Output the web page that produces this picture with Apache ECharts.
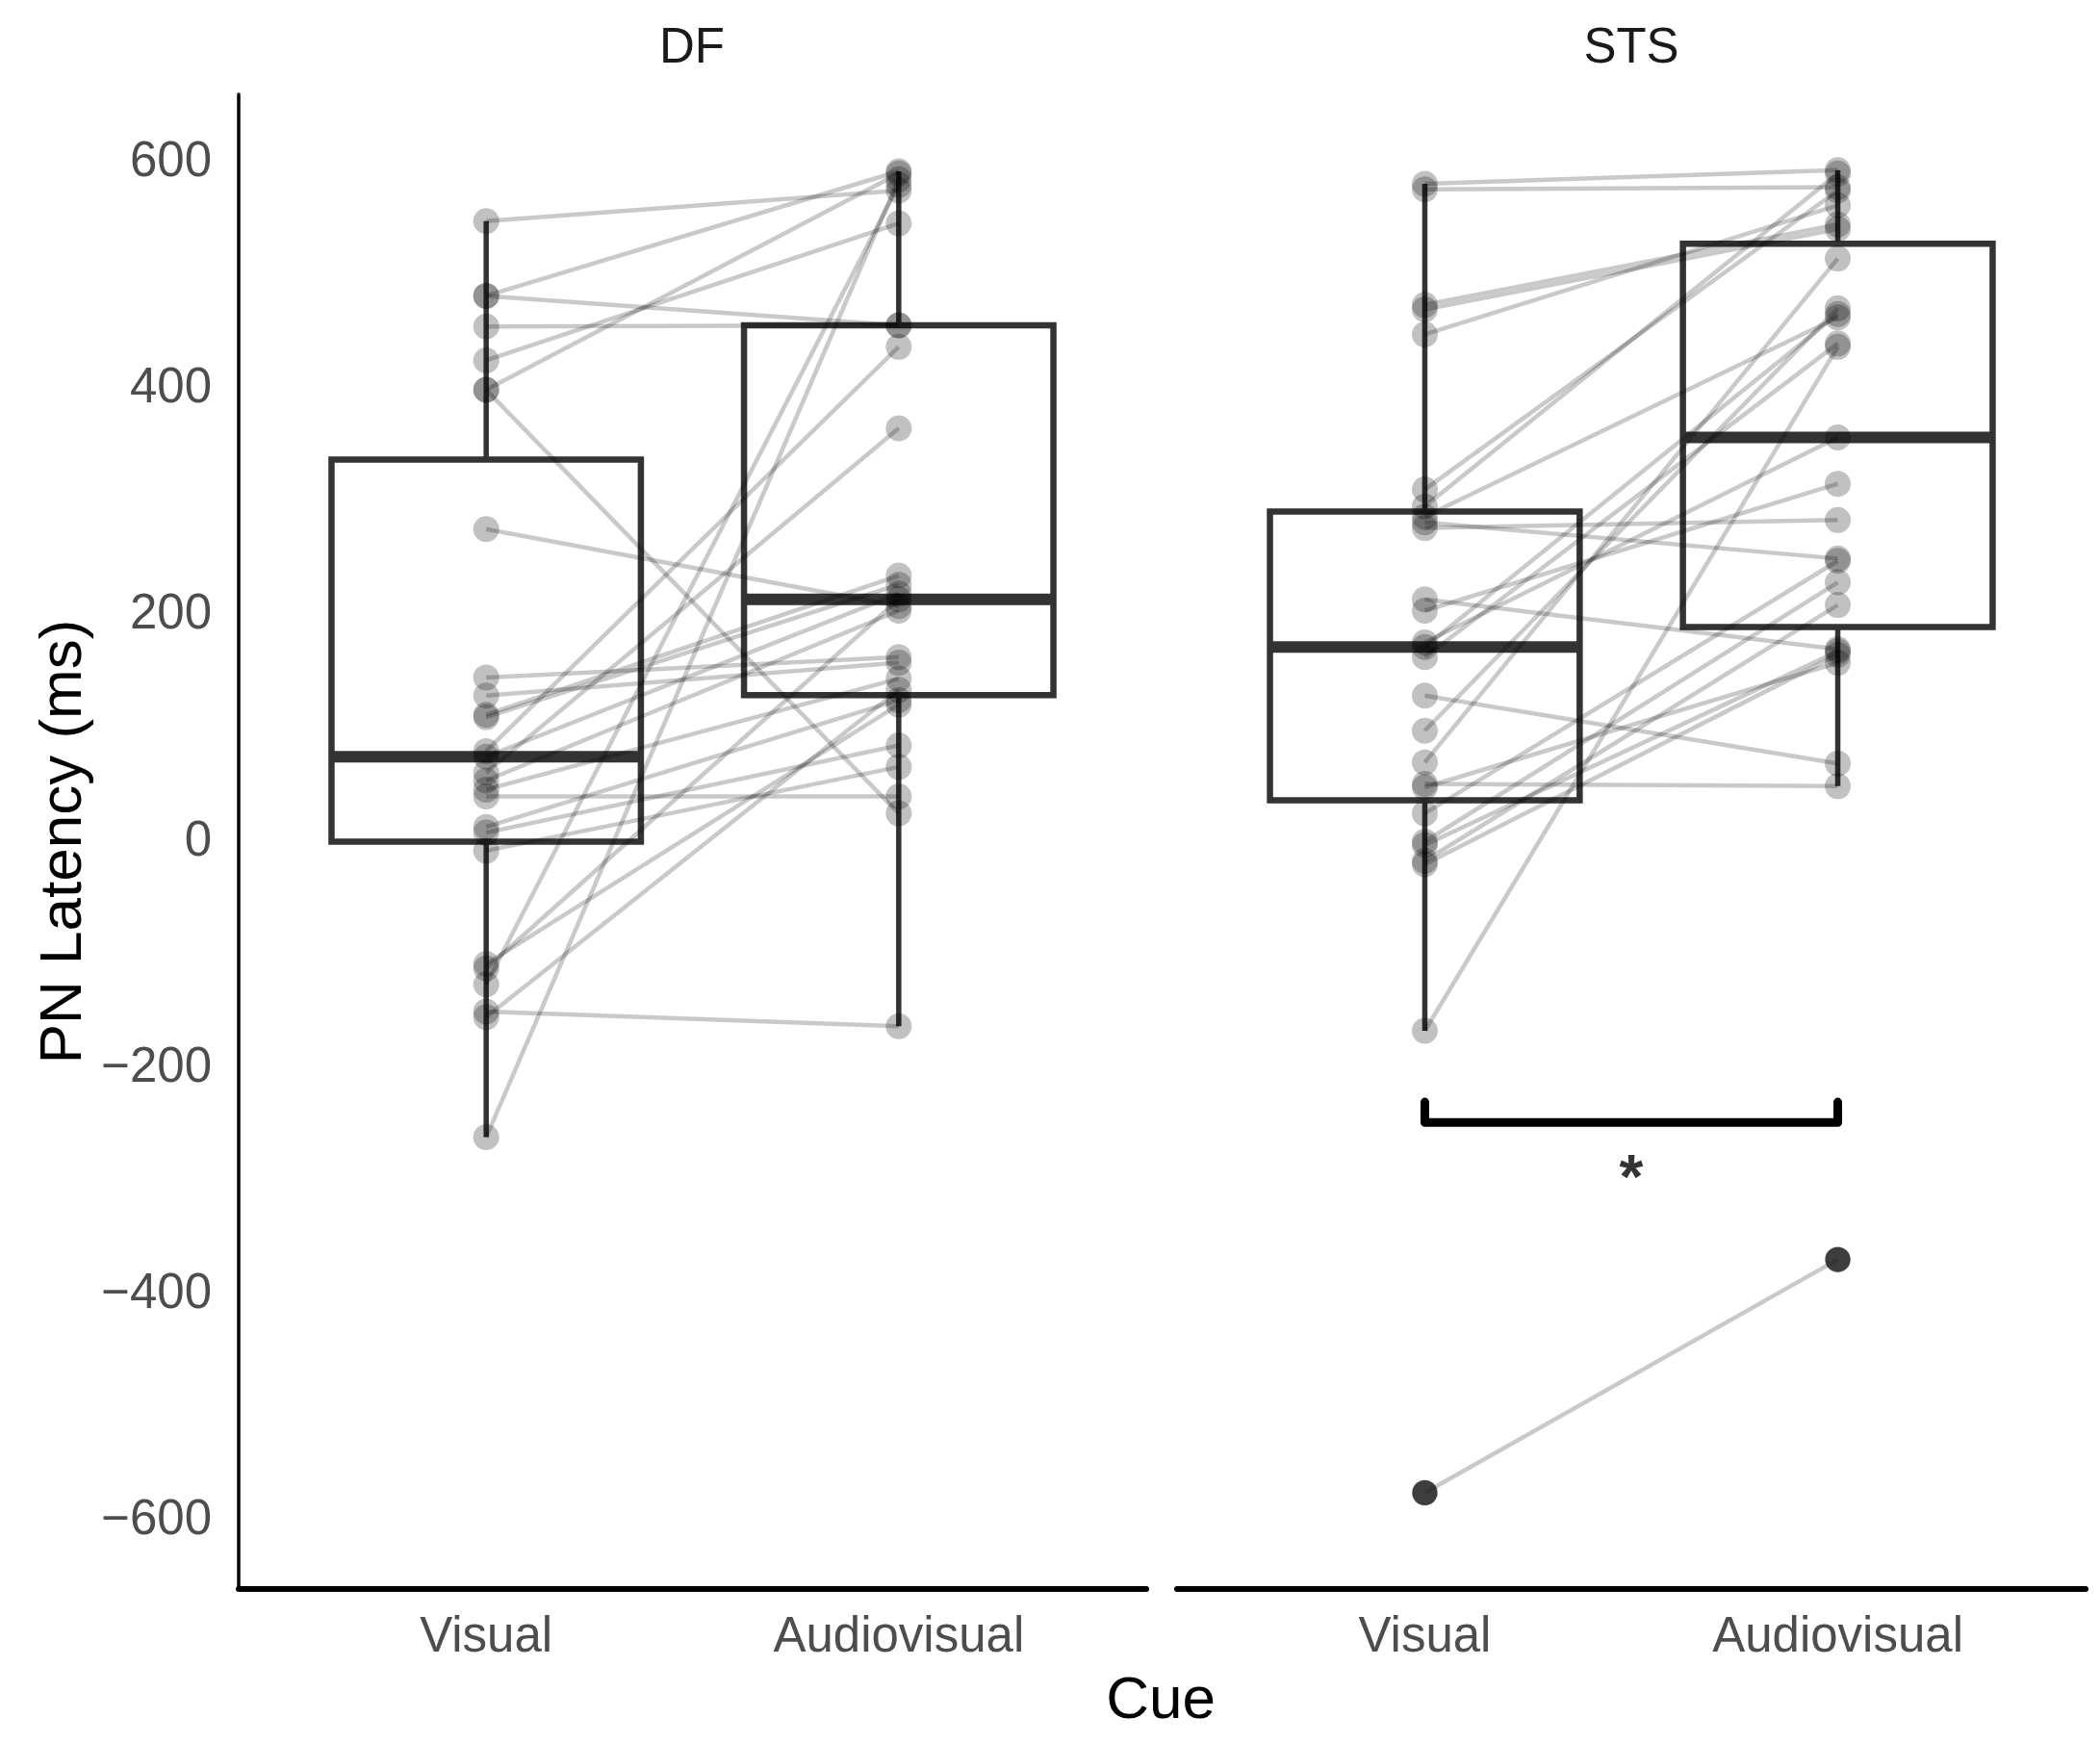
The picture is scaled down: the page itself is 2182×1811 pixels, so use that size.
<!DOCTYPE html>
<html>
<head>
<meta charset="utf-8">
<script src="https://cdn.jsdelivr.net/npm/echarts@6/dist/echarts.min.js"></script>
<style>html,body{margin:0;padding:0;background:#fff}#chart{width:2182px;height:1811px}</style>
</head>
<body>
<div id="chart"></div>
<script>
// ---------- data ----------
const regions = ['DF', 'STS'];
const cues = ['Visual', 'Audiovisual'];
const yTicks = [-600, -400, -200, 0, 200, 400, 600];
// paired values (same participant at same index)
const dfVisual      = [548, 482, 482, 455, 425, 399, 399, 276, 145, 129, 112, 110,  80,  75,  61,  54,  46, 40,  13,  8,  -8, -108, -112, -126, -150, -155, -261];
const dfAudiovisual = [575, 592, 456, 456, 546, 590,  25, 208, 163, 158, 235, 227, 437, 219, 365, 204, 144, 40, 125, 85,  66,  121,  214,  580, -163,  134,  585];
const stsVisual      = [581, 576, 474, 470, 448, 311, 296, 287, 282, 277, 214, 204, 176, 172, 163, 129,  98,  70, 51,  48,  25,   0,  -3, -17, -20, -167, -575];
const stsAudiovisual = [593, 578, 545, 541, 562, 575, 590, 463, 250, 284, 170, 316, 357, 466, 440,  69, 471, 515, 49, 158, 248, 229, 168, 209, 165,  437, -369];
// significance annotation (STS panel): bracket between the two cues
const sigBracketLevel = -248;
const sigBracketTip = -230;
const sigText = '*';
const sigTextLevel = -300;

// ---------- helpers ----------
function quantile(sorted, p) {
  const h = (sorted.length - 1) * p;
  const lo = Math.floor(h), hi = Math.ceil(h);
  return sorted[lo] + (h - lo) * (sorted[hi] - sorted[lo]);
}
function boxStats(arr) {
  const s = arr.slice().sort((a, b) => a - b);
  const q1 = quantile(s, 0.25), med = quantile(s, 0.5), q3 = quantile(s, 0.75);
  const iqr = q3 - q1;
  const inside = s.filter(v => v >= q1 - 1.5 * iqr && v <= q3 + 1.5 * iqr);
  const lo = Math.min(...inside), hi = Math.max(...inside);
  const outliers = s.filter(v => v < lo || v > hi);
  return { q1, med, q3, lo, hi, outliers };
}

const panels = [
  { visual: dfVisual, av: dfAudiovisual },
  { visual: stsVisual, av: stsAudiovisual }
];

const FONT = "'Liberation Sans', Arial, sans-serif";
const BOX_COLOR = '#333333';
const grids = [
  { left: 248, top: 98, width: 943, height: 1553, containLabel: false },
  { left: 1223, top: 98, width: 944, height: 1553, containLabel: false }
];

const xAxes = [], yAxes = [], series = [];
panels.forEach((p, i) => {
  xAxes.push({
    gridIndex: i, type: 'value', min: 0.4, max: 2.6,
    axisLine: { show: true, onZero: false, lineStyle: { color: '#000', width: 6 } },
    axisTick: { show: false }, splitLine: { show: false },
    axisLabel: {
      customValues: [1, 2],
      formatter: v => cues[Math.round(v) - 1] || '',
      fontSize: 51, color: '#4d4d4d', margin: 25, fontFamily: FONT
    }
  });
  yAxes.push({
    gridIndex: i, type: 'value', min: -660, max: 660,
    axisLine: { show: i === 0, onZero: false, lineStyle: { color: '#000', width: 3.5 } },
    axisTick: { show: false }, splitLine: { show: false },
    axisLabel: {
      show: i === 0, customValues: yTicks,
      formatter: v => String(v).replace('-', '\u2212'),
      fontSize: 51, color: '#4d4d4d', margin: 28, fontFamily: FONT
    },
    name: i === 0 ? 'PN Latency (ms)' : '',
    nameLocation: 'middle', nameGap: 150,
    nameTextStyle: { fontSize: 62, color: '#000', fontFamily: FONT }
  });

  const sv = boxStats(p.visual), sa = boxStats(p.av);
  const boxData = [
    [1, sv.q1, sv.med, sv.q3, sv.lo, sv.hi],
    [2, sa.q1, sa.med, sa.q3, sa.lo, sa.hi]
  ];
  series.push({
    type: 'custom', xAxisIndex: i, yAxisIndex: i, z: 1, silent: true,
    encode: { x: 0, y: [1, 2, 3, 4, 5] },
    data: boxData,
    renderItem: (params, api) => {
      const x = api.value(0);
      const pQ1 = api.coord([x, api.value(1)]);
      const pMed = api.coord([x, api.value(2)]);
      const pQ3 = api.coord([x, api.value(3)]);
      const pLo = api.coord([x, api.value(4)]);
      const pHi = api.coord([x, api.value(5)]);
      const halfW = api.size([0.75, 0])[0] / 2;
      const cx = pQ1[0];
      const st = { stroke: BOX_COLOR, lineWidth: 5.5, fill: null };
      return {
        type: 'group',
        children: [
          { type: 'line', shape: { x1: cx, y1: pQ3[1], x2: cx, y2: pHi[1] }, style: st },
          { type: 'line', shape: { x1: cx, y1: pQ1[1], x2: cx, y2: pLo[1] }, style: st },
          { type: 'rect', shape: { x: cx - halfW, y: pQ3[1], width: 2 * halfW, height: pQ1[1] - pQ3[1] },
            style: { stroke: BOX_COLOR, lineWidth: 6.5, fill: '#ffffff' } },
          { type: 'line', shape: { x1: cx - halfW, y1: pMed[1], x2: cx + halfW, y2: pMed[1] },
            style: { stroke: BOX_COLOR, lineWidth: 12 } }
        ]
      };
    }
  });

  // paired lines
  series.push({
    type: 'custom', xAxisIndex: i, yAxisIndex: i, z: 2, silent: true,
    encode: { x: [0, 2], y: [1, 3] },
    data: p.visual.map((v, k) => [1, v, 2, p.av[k]]),
    renderItem: (params, api) => {
      const a = api.coord([api.value(0), api.value(1)]);
      const b = api.coord([api.value(2), api.value(3)]);
      return { type: 'line', shape: { x1: a[0], y1: a[1], x2: b[0], y2: b[1] },
        style: { stroke: 'rgba(0,0,0,0.21)', lineWidth: 4.5 } };
    }
  });

  // boxplot outliers (black)
  const outl = sv.outliers.map(v => [1, v]).concat(sa.outliers.map(v => [2, v]));
  series.push({
    type: 'scatter', xAxisIndex: i, yAxisIndex: i, z: 3, silent: true,
    symbolSize: 26, itemStyle: { color: '#262626' },
    data: outl
  });

  // individual points
  series.push({
    type: 'scatter', xAxisIndex: i, yAxisIndex: i, z: 4, silent: true,
    symbolSize: 27, itemStyle: { color: 'rgba(0,0,0,0.3)' },
    data: p.visual.map(v => [1, v]).concat(p.av.map(v => [2, v]))
  });
});

// significance bracket in STS panel
series.push({
  type: 'line', xAxisIndex: 1, yAxisIndex: 1, z: 5, silent: true,
  symbol: 'none',
  lineStyle: { color: '#000', width: 9, cap: 'round', join: 'round' },
  data: [[1, sigBracketTip], [1, sigBracketLevel], [2, sigBracketLevel], [2, sigBracketTip]]
});
series.push({
  type: 'scatter', xAxisIndex: 1, yAxisIndex: 1, z: 5, silent: true,
  symbolSize: 1, itemStyle: { color: 'rgba(0,0,0,0)' },
  label: { show: true, position: 'inside', formatter: sigText, fontSize: 64, fontWeight: 'bold',
    color: '#000', fontFamily: FONT },
  data: [[1.5, sigTextLevel]]
});

const option = {
  animation: false,
  backgroundColor: '#ffffff',
  textStyle: { fontFamily: FONT },
  grid: grids,
  xAxis: xAxes,
  yAxis: yAxes,
  series: series,
  graphic: [
    { type: 'text', x: 719, y: 51, style: { text: regions[0], fill: '#1a1a1a', font: "51px 'Liberation Sans', Arial, sans-serif", textAlign: 'center', textVerticalAlign: 'middle' } },
    { type: 'text', x: 1695, y: 51, style: { text: regions[1], fill: '#1a1a1a', font: "51px 'Liberation Sans', Arial, sans-serif", textAlign: 'center', textVerticalAlign: 'middle' } },
    { type: 'text', x: 1206, y: 1768, style: { text: 'Cue', fill: '#000', font: "62px 'Liberation Sans', Arial, sans-serif", textAlign: 'center', textVerticalAlign: 'middle' } }
  ]
};
const chart = echarts.init(document.getElementById('chart'), null, { renderer: 'canvas', width: 2182, height: 1811 });
chart.setOption(option);
</script>
</body>
</html>
